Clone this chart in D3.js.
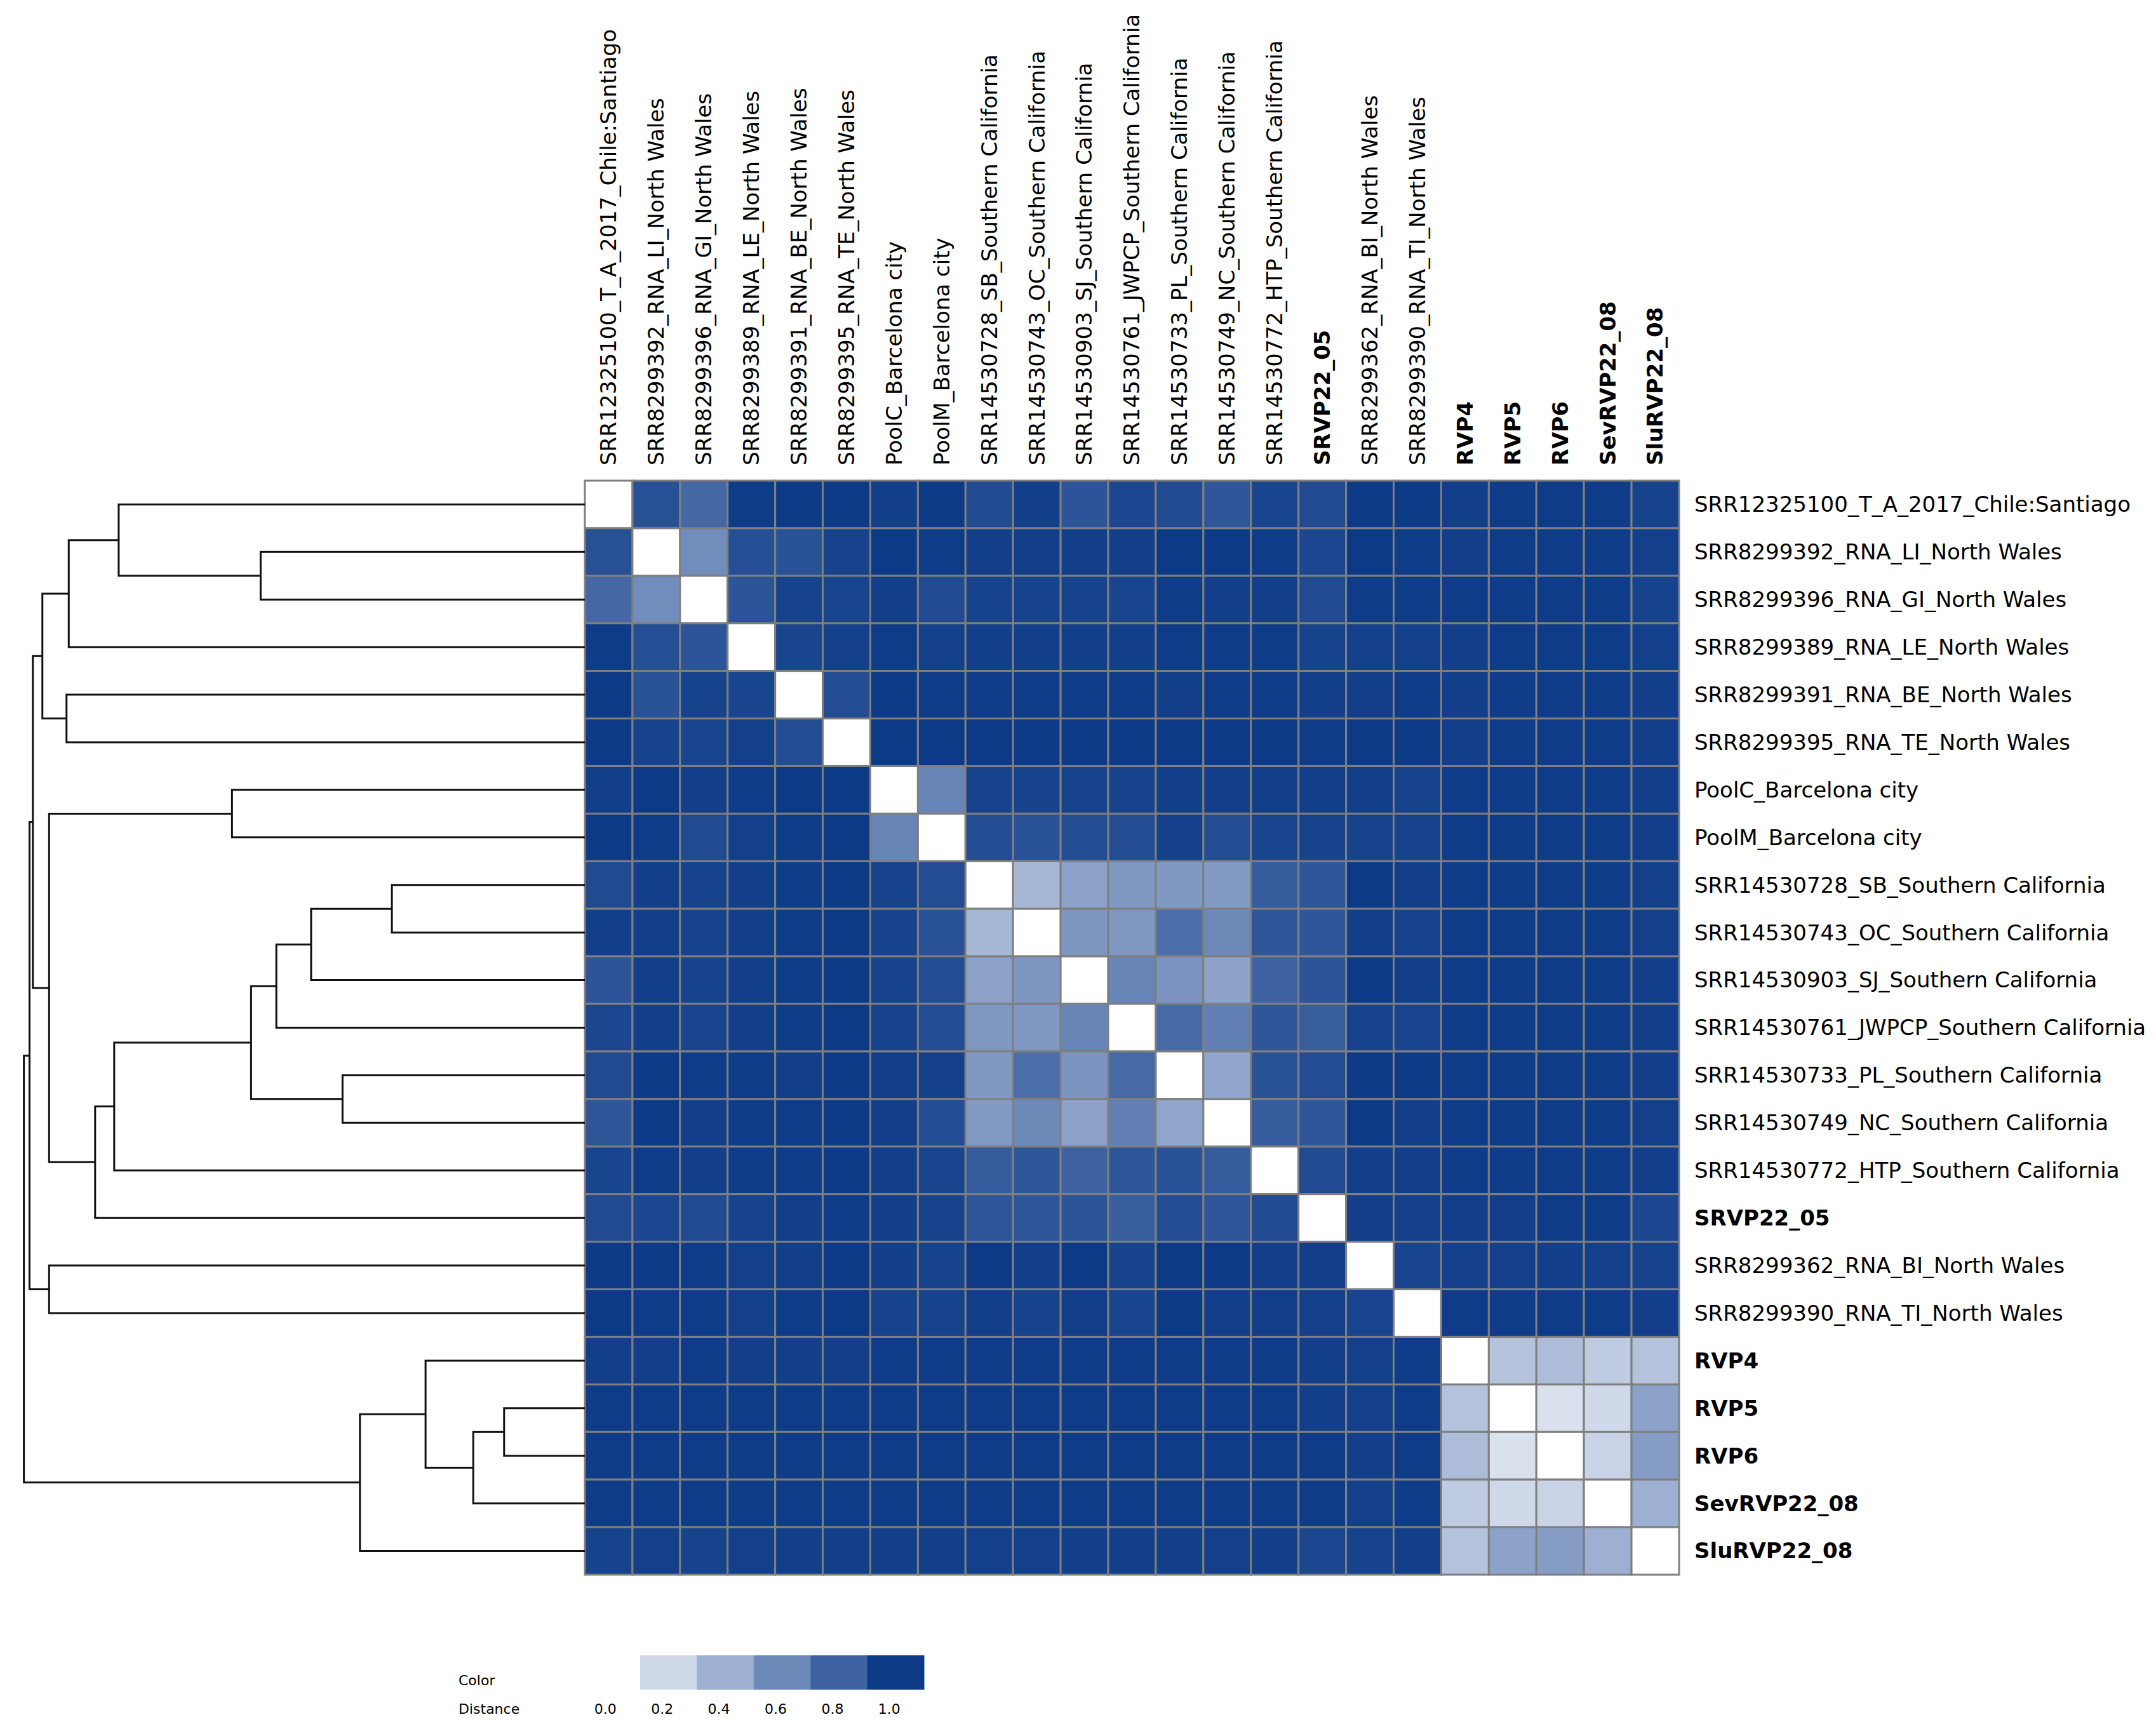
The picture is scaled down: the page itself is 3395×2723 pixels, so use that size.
<!DOCTYPE html>
<html>
<head>
<meta charset="utf-8">
<script src="https://cdn.jsdelivr.net/npm/d3@7"></script>
<style>
  body { margin: 0; background: #fff; }
  text { font-family: "DejaVu Sans", Verdana, sans-serif; fill: #000; }
</style>
</head>
<body>
<div id="chart"></div>
<script>
// sample names, same order for rows and columns
var labels = [
  "SRR12325100_T_A_2017_Chile:Santiago",
  "SRR8299392_RNA_LI_North Wales",
  "SRR8299396_RNA_GI_North Wales",
  "SRR8299389_RNA_LE_North Wales",
  "SRR8299391_RNA_BE_North Wales",
  "SRR8299395_RNA_TE_North Wales",
  "PoolC_Barcelona city",
  "PoolM_Barcelona city",
  "SRR14530728_SB_Southern California",
  "SRR14530743_OC_Southern California",
  "SRR14530903_SJ_Southern California",
  "SRR14530761_JWPCP_Southern California",
  "SRR14530733_PL_Southern California",
  "SRR14530749_NC_Southern California",
  "SRR14530772_HTP_Southern California",
  "SRVP22_05",
  "SRR8299362_RNA_BI_North Wales",
  "SRR8299390_RNA_TI_North Wales",
  "RVP4",
  "RVP5",
  "RVP6",
  "SevRVP22_08",
  "SluRVP22_08"
];
var boldNames = ["SRVP22_05", "RVP4", "RVP5", "RVP6", "SevRVP22_08", "SluRVP22_08"];

// lower triangle of the distance matrix (row i, columns 0..i-1)
var lowerTri = [
  [],
  [0.89],
  [0.77, 0.58],
  [0.99, 0.90, 0.87],
  [1.00, 0.88, 0.96, 0.95],
  [1.00, 0.96, 0.95, 0.97, 0.91],
  [0.98, 1.00, 0.98, 0.99, 1.00, 1.00],
  [1.00, 0.99, 0.92, 0.97, 0.99, 1.00, 0.62],
  [0.92, 0.98, 0.96, 0.98, 0.99, 1.00, 0.96, 0.91],
  [0.98, 0.98, 0.96, 0.98, 0.99, 1.00, 0.96, 0.88, 0.36],
  [0.87, 0.98, 0.96, 0.98, 0.99, 1.00, 0.96, 0.91, 0.47, 0.53],
  [0.94, 0.98, 0.95, 0.98, 0.99, 1.00, 0.96, 0.91, 0.52, 0.52, 0.62],
  [0.92, 1.00, 0.99, 0.99, 0.98, 1.00, 0.98, 0.97, 0.52, 0.74, 0.54, 0.76],
  [0.86, 1.00, 0.98, 0.99, 0.99, 1.00, 0.98, 0.91, 0.51, 0.60, 0.47, 0.65, 0.45],
  [0.95, 0.99, 0.98, 0.99, 0.99, 1.00, 0.98, 0.95, 0.83, 0.86, 0.80, 0.86, 0.88, 0.83],
  [0.92, 0.94, 0.92, 0.96, 0.98, 0.99, 0.98, 0.96, 0.86, 0.86, 0.87, 0.82, 0.91, 0.86, 0.92],
  [1.00, 1.00, 0.99, 0.97, 0.98, 1.00, 0.98, 0.96, 1.00, 0.98, 1.00, 0.96, 1.00, 1.00, 0.98, 0.98],
  [1.00, 0.99, 0.99, 0.97, 0.99, 1.00, 0.96, 0.96, 0.98, 0.96, 0.98, 0.95, 1.00, 0.98, 0.98, 0.97, 0.95],
  [0.98, 0.98, 0.99, 0.98, 0.98, 0.98, 0.99, 0.99, 0.99, 0.99, 0.99, 0.99, 0.99, 0.99, 0.99, 0.98, 0.97, 0.99],
  [0.99, 0.99, 0.99, 0.99, 0.99, 0.99, 0.99, 0.99, 0.99, 0.99, 0.99, 0.99, 0.99, 0.99, 0.99, 0.98, 0.97, 0.99, 0.31],
  [0.99, 0.99, 0.99, 0.99, 0.99, 0.99, 0.99, 0.99, 0.99, 0.99, 0.99, 0.99, 0.99, 0.99, 0.99, 0.99, 0.98, 0.99, 0.34, 0.16],
  [0.99, 0.99, 0.99, 0.99, 0.99, 0.99, 0.99, 0.99, 0.99, 0.99, 0.99, 0.99, 0.99, 0.99, 0.99, 0.99, 0.97, 0.99, 0.27, 0.20, 0.23],
  [0.96, 0.97, 0.96, 0.97, 0.98, 0.98, 0.98, 0.98, 0.97, 0.97, 0.98, 0.98, 0.98, 0.97, 0.98, 0.94, 0.96, 0.98, 0.31, 0.47, 0.50, 0.40]
];

// linkage: [left, right, height]; ids < 23 are leaves, id 23+k is merge k
var merges = [
  [1, 2, 0.578],
  [0, 23, 0.831],
  [24, 3, 0.920],
  [4, 5, 0.924],
  [25, 26, 0.967],
  [6, 7, 0.629],
  [8, 9, 0.344],
  [29, 10, 0.488],
  [30, 11, 0.550],
  [12, 13, 0.432],
  [31, 32, 0.595],
  [33, 14, 0.839],
  [34, 15, 0.873],
  [28, 35, 0.955],
  [27, 36, 0.984],
  [16, 17, 0.955],
  [37, 38, 0.990],
  [19, 20, 0.144],
  [40, 21, 0.199],
  [18, 41, 0.284],
  [42, 22, 0.401],
  [39, 43, 1.000]
];

// legend
var legendStops = [0.2, 0.4, 0.6, 0.8, 1.0];
var legendTicks = ["0.0", "0.2", "0.4", "0.6", "0.8", "1.0"];
var colorDomain = [0, 0.2, 0.4, 0.6, 0.8, 1.0];
var colorRange = ["#ffffff", "#cfd9e9", "#9db0d2", "#6c89b8", "#3e62a1", "#0d3a87"];

var W = 3395, H = 2723;
var n = labels.length;

var svg = d3.select("#chart").append("svg")
  .attr("width", W).attr("height", H)
  .style("background", "#fff");

var x = d3.scaleBand().domain(d3.range(n)).range([921, 2644]);
var y = d3.scaleBand().domain(d3.range(n)).range([757, 2480]);
var color = d3.scaleLinear().domain(colorDomain).range(colorRange);

function dist(i, j) {
  if (i === j) return 0;
  return i > j ? lowerTri[i][j] : lowerTri[j][i];
}

var cells = [];
for (var i = 0; i < n; i++) {
  for (var j = 0; j < n; j++) {
    cells.push({ r: i, c: j, v: dist(i, j) });
  }
}

// heatmap
svg.append("g").selectAll("rect")
  .data(cells)
  .enter().append("rect")
    .attr("x", function(d) { return x(d.c); })
    .attr("y", function(d) { return y(d.r); })
    .attr("width", x.bandwidth())
    .attr("height", y.bandwidth())
    .attr("fill", function(d) { return color(d.v); })
    .attr("stroke", "#7f7f7f")
    .attr("stroke-width", 3);

function isBold(name) { return boldNames.indexOf(name) >= 0; }

// row labels
svg.append("g").selectAll("text")
  .data(labels)
  .enter().append("text")
    .attr("x", 2668)
    .attr("y", function(d, i) { return y(i) + y.bandwidth() / 2; })
    .attr("dy", "0.35em")
    .style("font-size", "34px")
    .style("font-weight", function(d) { return isBold(d) ? "bold" : "normal"; })
    .text(function(d) { return d; });

// column labels
svg.append("g").selectAll("text")
  .data(labels)
  .enter().append("text")
    .attr("transform", function(d, i) {
      return "translate(" + (x(i) + x.bandwidth() / 2) + ",733) rotate(-90)";
    })
    .attr("dy", "0.35em")
    .style("font-size", "34px")
    .style("font-weight", function(d) { return isBold(d) ? "bold" : "normal"; })
    .text(function(d) { return d; });

// dendrogram
var hx = d3.scaleLinear().domain([0, 1.0]).range([921, 37.6]);
var nodeY = [], nodeH = [];
for (var k = 0; k < n; k++) { nodeY[k] = y(k) + y.bandwidth() / 2; nodeH[k] = 0; }
var paths = [];
merges.forEach(function(m, k) {
  var id = n + k;
  nodeY[id] = (nodeY[m[0]] + nodeY[m[1]]) / 2;
  nodeH[id] = m[2];
  paths.push({ a: m[0], b: m[1], h: m[2] });
});

svg.append("g").selectAll("path")
  .data(paths)
  .enter().append("path")
    .attr("fill", "none")
    .attr("stroke", "#111")
    .attr("stroke-width", 3)
    .attr("d", function(d) {
      var p = d3.path();
      p.moveTo(hx(nodeH[d.a]), nodeY[d.a]);
      p.lineTo(hx(d.h), nodeY[d.a]);
      p.lineTo(hx(d.h), nodeY[d.b]);
      p.lineTo(hx(nodeH[d.b]), nodeY[d.b]);
      return p.toString();
    });

// color legend
var lx = d3.scaleBand().domain(legendStops).range([1008, 1455]);
svg.append("g").selectAll("rect")
  .data(legendStops)
  .enter().append("rect")
    .attr("x", function(d) { return lx(d); })
    .attr("y", 2607)
    .attr("width", lx.bandwidth() + 0.5)
    .attr("height", 54)
    .attr("fill", function(d) { return color(d); });

svg.append("text").attr("x", 722).attr("y", 2654)
  .style("font-size", "22px").text("Color");
svg.append("text").attr("x", 722).attr("y", 2699)
  .style("font-size", "22px").text("Distance");

svg.append("g").selectAll("text")
  .data(legendTicks)
  .enter().append("text")
    .attr("x", function(d, i) { return 1008 + (i - 0.5) * lx.bandwidth() - 10; })
    .attr("y", 2699)
    .attr("text-anchor", "middle")
    .style("font-size", "22px")
    .text(function(d) { return d; });
</script>
</body>
</html>
